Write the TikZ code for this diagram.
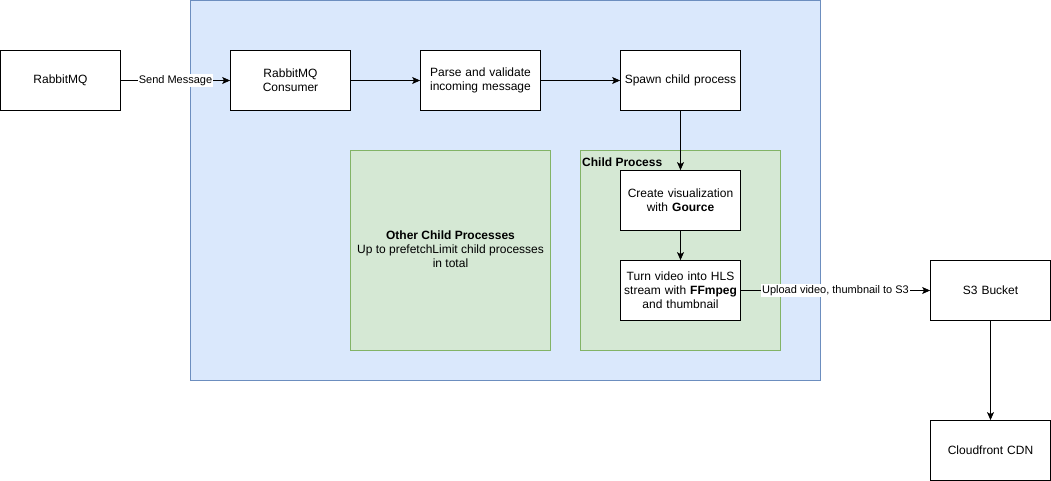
\documentclass[tikz,border=0pt]{standalone}
\usepackage{fontspec}
\setmainfont{Liberation Sans}
\usetikzlibrary{arrows.meta}
\definecolor{bluefill}{HTML}{DAE8FC}
\definecolor{bluedraw}{HTML}{6C8EBF}
\definecolor{greenfill}{HTML}{D5E8D4}
\definecolor{greendraw}{HTML}{82B366}
\tikzset{
  px/.style={x=1pt,y=-1pt},
  procbox/.style={draw=black, fill=white, line width=0.8pt, minimum width=120pt, minimum height=60pt, align=center, inner sep=2pt, font=\fontsize{12}{14}\selectfont, text width=116pt},
  flow/.style={draw=black, line width=0.8pt, -{Stealth[length=8pt,width=7pt,inset=2pt]}},
  elabel/.style={fill=white, inner sep=1pt, font=\fontsize{11}{13}\selectfont},
  groupblue/.style={draw=bluedraw, fill=bluefill, line width=0.8pt},
  groupgreen/.style={draw=greendraw, fill=greenfill, line width=0.8pt}
}
\begin{document}
\begin{tikzpicture}[px]
\useasboundingbox (0,0) rectangle (1051,481);
% groups
\draw[groupblue] (190.5,0.5) rectangle (820.5,380.5);
\draw[groupgreen] (350.5,150.5) rectangle (550.5,350.5);
\draw[groupgreen] (580.5,150.5) rectangle (780.5,350.5);
\node[align=center, font=\fontsize{12}{14}\selectfont] (other) at (450.5,249) {\textbf{Other Child Processes}\\Up to prefetchLimit child processes\\in total};
\node[anchor=north west, inner sep=0pt, font=\bfseries\fontsize{12}{14}\selectfont] (childlbl) at (582,157.5) {Child Process};
% boxes
\node[procbox] (rmq) at (60.5,80.5) {RabbitMQ};
\node[procbox] (cons) at (290.5,80.5) {RabbitMQ\\Consumer};
\node[procbox] (parse) at (480.5,80.5) {Parse and validate\\incoming message};
\node[procbox] (spawn) at (680.5,80.5) {Spawn child process};
\node[procbox] (gource) at (680.5,200.5) {Create visualization\\with \textbf{Gource}};
\node[procbox] (hls) at (680.5,290.5) {Turn video into HLS\\stream with \textbf{FFmpeg}\\and thumbnail};
\node[procbox] (s3) at (990.5,290.5) {S3 Bucket};
\node[procbox] (cdn) at (990.5,450.5) {Cloudfront CDN};
% connectors
\draw[flow] (rmq) -- node[elabel, pos=0.5] {Send Message} (cons);
\draw[flow] (cons) -- (parse);
\draw[flow] (parse) -- (spawn);
\draw[flow] (spawn) -- (gource);
\draw[flow] (gource) -- (hls);
\draw[flow] (hls) -- node[elabel, pos=0.5] {Upload video, thumbnail to S3} (s3);
\draw[flow] (s3) -- (cdn);
\end{tikzpicture}
\end{document}
